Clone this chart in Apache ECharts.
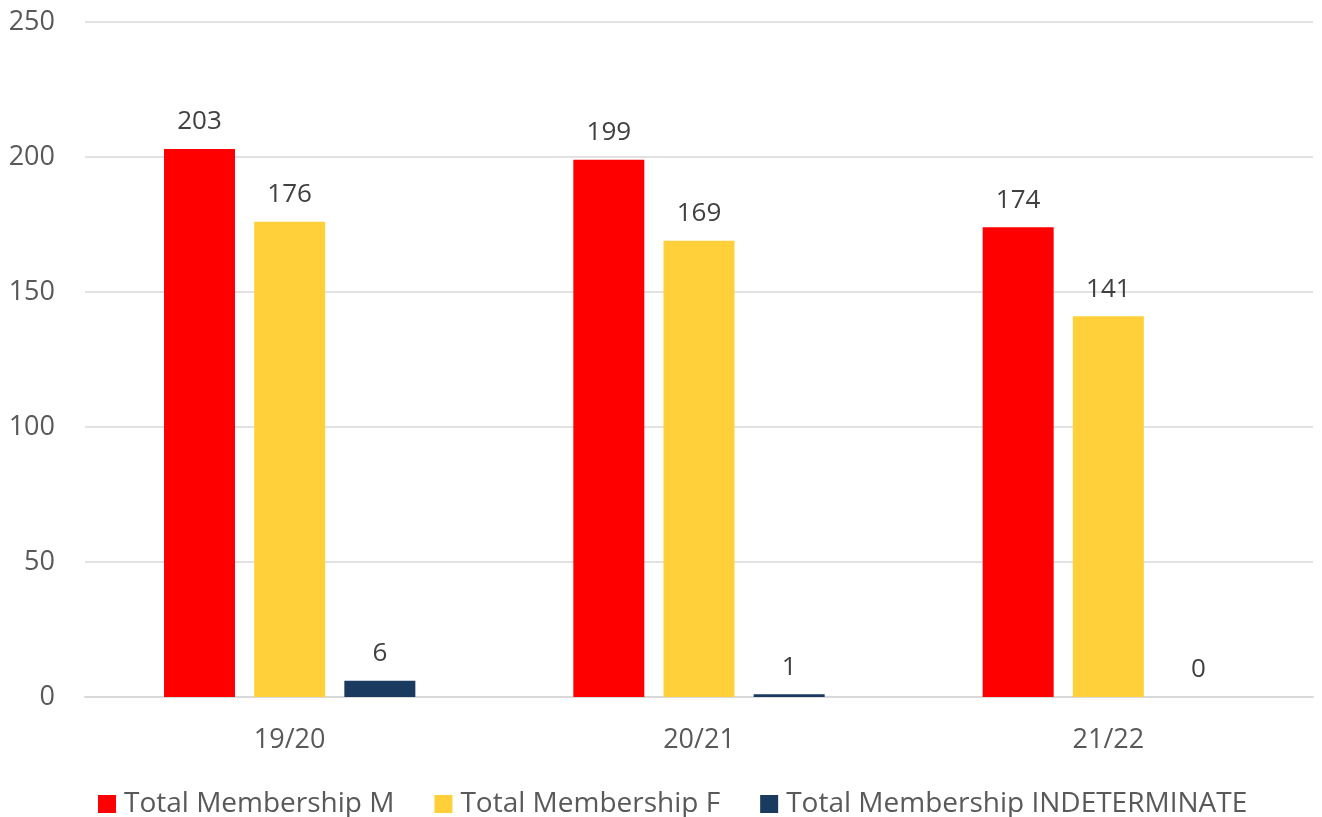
<!DOCTYPE html>
<html>
<head>
<meta charset="utf-8">
<style>
  html, body { margin: 0; padding: 0; width: 100%; height: 100%; background: #fff; }
  #main { width: 1322px; height: 817px; }
</style>
</head>
<body>
<div id="main"></div>
<script src="https://cdn.jsdelivr.net/npm/echarts@6/dist/echarts.min.js"></script>
<script>
var seasons = ['19/20', '20/21', '21/22'];
var seriesNames = ['Total Membership M', 'Total Membership F', 'Total Membership INDETERMINATE'];
var maleValues = [203, 199, 174];
var femaleValues = [176, 169, 141];
var indetValues = [6, 1, 0];
var colors = ['#FF0000', '#FFD03A', '#1B3A5F'];

var chartDom = document.getElementById('main');
var myChart = echarts.init(chartDom);
var font = '"Open Sans", "Noto Sans", sans-serif';

function makeSeries(name, data, color) {
  return {
    name: name,
    type: 'bar',
    data: data,
    barWidth: 71,
    barGap: '27%',
    itemStyle: { color: color },
    label: {
      show: true,
      position: 'top',
      distance: 14,
      color: '#404040',
      fontSize: 26,
      fontFamily: font
    }
  };
}

var option = {
  animation: false,
  textStyle: { fontFamily: font },
  grid: { left: 85, right: 9, top: 22, bottom: 120 },
  legend: {
    top: 785,
    left: 93,
    itemWidth: 18,
    itemHeight: 18,
    itemGap: 40,
    icon: 'rect',
    textStyle: { color: '#595959', fontSize: 28, fontFamily: font, padding: [0, 0, 0, 3] }
  },
  xAxis: {
    type: 'category',
    data: seasons,
    axisLine: { lineStyle: { color: '#D9D9D9', width: 2 } },
    axisTick: { show: false },
    axisLabel: { color: '#595959', fontSize: 27, margin: 30, fontFamily: font }
  },
  yAxis: {
    type: 'value',
    min: 0,
    max: 250,
    interval: 50,
    axisLine: { show: false },
    axisTick: { show: false },
    splitLine: { lineStyle: { color: '#D9D9D9', width: 1.5 } },
    axisLabel: { color: '#595959', fontSize: 27, margin: 30, fontFamily: font }
  },
  series: [
    makeSeries(seriesNames[0], maleValues, colors[0]),
    makeSeries(seriesNames[1], femaleValues, colors[1]),
    makeSeries(seriesNames[2], indetValues, colors[2])
  ]
};

option && myChart.setOption(option);
</script>
</body>
</html>
